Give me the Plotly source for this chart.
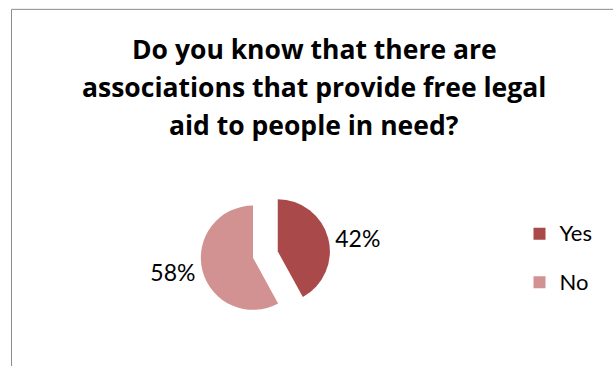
import plotly.graph_objects as go

# Survey answers
categories = ["Yes", "No"]
shares = [42, 58]
colors = ["#A9494A", "#D29292"]
title_lines = [
    "Do you know that there are",
    "associations that provide free legal",
    "aid to people in need?",
]

W, H = 613, 366

# Legend rows are spaced by the legend font size; the visible label is smaller
legend_labels = [
    f"<span style='font-size:22px;baseline-shift:6px'>{c}</span>" for c in categories
]

fig = go.Figure()
fig.add_trace(go.Pie(
    labels=legend_labels,
    values=shares,
    marker=dict(colors=colors, line=dict(width=0)),
    sort=False,
    direction="clockwise",
    rotation=0,
    pull=[0.49, 0],
    textinfo="percent",
    texttemplate="%{percent:.0%}",
    textposition="outside",
    textfont=dict(family="Lato", size=23, color="#000000"),
    domain=dict(x=[0.2838, 0.5416], y=[0.0683, 0.5]),
    hovertext=categories,
    hoverinfo="text+percent",
))

# Title, one annotation per line
line_y = [50, 88, 127]
annotations = []
for txt, yy in zip(title_lines, line_y):
    annotations.append(dict(
        text=f"<b>{txt}</b>", x=314 / W, y=1 - yy / H, xref="paper", yref="paper",
        xanchor="center", yanchor="middle", showarrow=False,
        font=dict(family="Open Sans", size=26.5, color="#000000"),
    ))

fig.update_layout(
    width=W, height=H,
    margin=dict(l=0, r=0, t=0, b=0),
    paper_bgcolor="white",
    plot_bgcolor="white",
    showlegend=True,
    legend=dict(
        x=519.5 / W, y=1 - 208 / H, xanchor="left", yanchor="top",
        font=dict(family="Lato", size=35, color="#000000"),
        bgcolor="rgba(0,0,0,0)",
    ),
    annotations=annotations,
    shapes=[dict(
        type="rect", xref="paper", yref="paper",
        x0=11.5 / W, x1=1.2, y0=-0.2, y1=1 - 9.5 / H,
        line=dict(color="#8C8C8C", width=1), fillcolor="rgba(0,0,0,0)", layer="below",
    )],
)

fig.write_html("out.html")
